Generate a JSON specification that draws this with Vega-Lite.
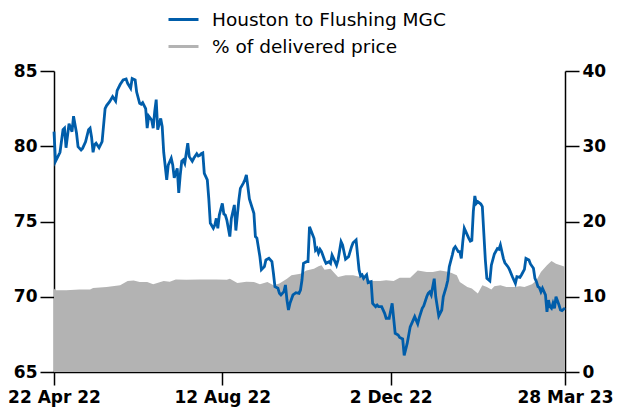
{
 "$schema": "https://vega.github.io/schema/vega-lite/v6.json",
 "width": 511, "height": 301,
 "autosize": {"type": "none"},
 "padding": {"left": 54, "top": 71, "right": 57, "bottom": 42},
 "background": "white",
 "config": {
  "font": "DejaVu Sans",
  "view": {"stroke": null},
  "axis": {"domainColor": "#000000", "domainWidth": 1.5, "tickColor": "#000000", "tickWidth": 1.5, "tickSize": 14, "labelFontSize": 17, "labelFontWeight": "bold", "labelColor": "#000000", "grid": false, "title": null, "labelPadding": 3}
 },
 "datasets": {
  "mgc": [
   {"date":"2022-04-22","v":80.97},{"date":"2022-04-23","v":79.0},{"date":"2022-04-26","v":79.6},{"date":"2022-04-28","v":81.1},{"date":"2022-04-29","v":81.2},{"date":"2022-04-30","v":79.9},
   {"date":"2022-05-02","v":81.5},{"date":"2022-05-04","v":80.97},{"date":"2022-05-05","v":82.0},{"date":"2022-05-07","v":80.86},{"date":"2022-05-08","v":79.97},{"date":"2022-05-10","v":79.75},{"date":"2022-05-11","v":79.86},{"date":"2022-05-13","v":80.3},{"date":"2022-05-15","v":81.1},{"date":"2022-05-16","v":81.2},{"date":"2022-05-17","v":80.6},{"date":"2022-05-18","v":79.6},{"date":"2022-05-19","v":80.1},{"date":"2022-05-20","v":80.2},{"date":"2022-05-22","v":79.9},{"date":"2022-05-24","v":80.3},{"date":"2022-05-26","v":82.5},{"date":"2022-05-27","v":82.7},{"date":"2022-05-29","v":82.96},{"date":"2022-05-31","v":83.3},
   {"date":"2022-06-02","v":83.0},{"date":"2022-06-03","v":83.7},{"date":"2022-06-05","v":84.1},{"date":"2022-06-07","v":84.4},{"date":"2022-06-09","v":84.47},{"date":"2022-06-10","v":84.18},{"date":"2022-06-12","v":83.85},{"date":"2022-06-13","v":84.5},{"date":"2022-06-15","v":84.4},{"date":"2022-06-16","v":83.6},{"date":"2022-06-18","v":82.85},{"date":"2022-06-19","v":82.79},{"date":"2022-06-20","v":82.9},{"date":"2022-06-22","v":82.5},{"date":"2022-06-23","v":81.2},{"date":"2022-06-24","v":82.0},{"date":"2022-06-26","v":81.74},{"date":"2022-06-27","v":81.2},{"date":"2022-06-28","v":82.3},{"date":"2022-06-29","v":83.1},{"date":"2022-06-30","v":81.1},
   {"date":"2022-07-02","v":81.85},{"date":"2022-07-03","v":81.3},{"date":"2022-07-04","v":79.6},{"date":"2022-07-06","v":77.76},{"date":"2022-07-07","v":78.75},{"date":"2022-07-09","v":79.2},{"date":"2022-07-10","v":78.75},{"date":"2022-07-11","v":77.9},{"date":"2022-07-13","v":78.53},{"date":"2022-07-14","v":76.9},{"date":"2022-07-15","v":78.09},{"date":"2022-07-16","v":79.0},{"date":"2022-07-17","v":79.09},{"date":"2022-07-18","v":78.87},{"date":"2022-07-19","v":79.53},{"date":"2022-07-20","v":80.2},{"date":"2022-07-21","v":79.31},{"date":"2022-07-23","v":79.0},{"date":"2022-07-24","v":79.2},{"date":"2022-07-26","v":79.5},{"date":"2022-07-27","v":79.35},{"date":"2022-07-28","v":79.4},{"date":"2022-07-29","v":79.5},{"date":"2022-07-30","v":79.55},{"date":"2022-07-31","v":78.2},
   {"date":"2022-08-02","v":77.76},{"date":"2022-08-03","v":76.5},{"date":"2022-08-04","v":74.9},{"date":"2022-08-06","v":74.55},{"date":"2022-08-07","v":74.77},{"date":"2022-08-08","v":75.21},{"date":"2022-08-09","v":74.55},{"date":"2022-08-10","v":75.43},{"date":"2022-08-12","v":76.2},{"date":"2022-08-13","v":75.5},{"date":"2022-08-14","v":75.43},{"date":"2022-08-15","v":75.1},{"date":"2022-08-17","v":74.0},{"date":"2022-08-18","v":75.2},{"date":"2022-08-20","v":76.1},{"date":"2022-08-21","v":74.4},{"date":"2022-08-23","v":76.43},{"date":"2022-08-24","v":77.2},{"date":"2022-08-26","v":77.55},{"date":"2022-08-27","v":77.76},{"date":"2022-08-28","v":78.1},{"date":"2022-08-29","v":77.31},{"date":"2022-08-30","v":76.5},
   {"date":"2022-09-02","v":75.55},{"date":"2022-09-03","v":74.0},{"date":"2022-09-04","v":73.9},{"date":"2022-09-06","v":72.66},{"date":"2022-09-07","v":71.8},{"date":"2022-09-09","v":72.0},{"date":"2022-09-10","v":72.44},{"date":"2022-09-12","v":72.55},{"date":"2022-09-14","v":72.33},{"date":"2022-09-15","v":71.56},{"date":"2022-09-16","v":70.67},{"date":"2022-09-18","v":70.56},{"date":"2022-09-19","v":70.23},{"date":"2022-09-20","v":70.12},{"date":"2022-09-22","v":70.34},{"date":"2022-09-23","v":70.78},{"date":"2022-09-24","v":69.78},{"date":"2022-09-25","v":69.12},{"date":"2022-09-26","v":69.56},{"date":"2022-09-28","v":70.12},{"date":"2022-09-30","v":70.27},
   {"date":"2022-10-02","v":70.23},{"date":"2022-10-03","v":70.45},{"date":"2022-10-04","v":71.11},{"date":"2022-10-05","v":72.22},{"date":"2022-10-07","v":72.33},{"date":"2022-10-08","v":72.33},{"date":"2022-10-09","v":74.65},{"date":"2022-10-12","v":73.88},{"date":"2022-10-13","v":73.1},{"date":"2022-10-14","v":73.22},{"date":"2022-10-15","v":72.9},{"date":"2022-10-16","v":73.15},{"date":"2022-10-17","v":73.0},{"date":"2022-10-19","v":72.44},{"date":"2022-10-20","v":72.22},{"date":"2022-10-22","v":72.33},{"date":"2022-10-23","v":72.22},{"date":"2022-10-24","v":72.77},{"date":"2022-10-25","v":72.55},{"date":"2022-10-27","v":72.1},{"date":"2022-10-28","v":72.44},{"date":"2022-10-30","v":73.66},{"date":"2022-10-31","v":73.44},
   {"date":"2022-11-02","v":72.5},{"date":"2022-11-04","v":72.66},{"date":"2022-11-06","v":73.33},{"date":"2022-11-07","v":73.59},{"date":"2022-11-09","v":73.77},{"date":"2022-11-10","v":72.77},{"date":"2022-11-11","v":71.78},{"date":"2022-11-12","v":71.38},{"date":"2022-11-13","v":71.45},{"date":"2022-11-14","v":71.22},{"date":"2022-11-16","v":71.45},{"date":"2022-11-17","v":70.93},{"date":"2022-11-19","v":71.0},{"date":"2022-11-20","v":69.56},{"date":"2022-11-22","v":69.34},{"date":"2022-11-23","v":69.45},{"date":"2022-11-24","v":69.34},{"date":"2022-11-26","v":69.34},{"date":"2022-11-28","v":68.9},{"date":"2022-11-29","v":68.57},
   {"date":"2022-12-01","v":68.57},{"date":"2022-12-03","v":69.56},{"date":"2022-12-04","v":68.57},{"date":"2022-12-05","v":67.57},{"date":"2022-12-07","v":67.46},{"date":"2022-12-08","v":67.3},{"date":"2022-12-10","v":67.2},{"date":"2022-12-11","v":66.1},{"date":"2022-12-13","v":66.9},{"date":"2022-12-15","v":68.0},{"date":"2022-12-17","v":68.45},{"date":"2022-12-18","v":68.68},{"date":"2022-12-20","v":68.2},{"date":"2022-12-21","v":68.6},{"date":"2022-12-23","v":69.23},{"date":"2022-12-24","v":69.39},{"date":"2022-12-26","v":70.0},{"date":"2022-12-27","v":70.23},{"date":"2022-12-28","v":70.33},{"date":"2022-12-29","v":70.12},{"date":"2022-12-30","v":70.67},{"date":"2022-12-31","v":71.2},
   {"date":"2023-01-01","v":70.0},{"date":"2023-01-03","v":68.72},{"date":"2023-01-05","v":69.12},{"date":"2023-01-06","v":70.0},{"date":"2023-01-08","v":70.67},{"date":"2023-01-09","v":71.1},{"date":"2023-01-10","v":72.0},{"date":"2023-01-12","v":72.77},{"date":"2023-01-13","v":73.2},{"date":"2023-01-14","v":73.33},{"date":"2023-01-16","v":73.0},{"date":"2023-01-17","v":73.0},{"date":"2023-01-18","v":72.55},{"date":"2023-01-19","v":73.66},{"date":"2023-01-20","v":74.55},{"date":"2023-01-21","v":74.33},{"date":"2023-01-23","v":73.88},{"date":"2023-01-24","v":73.7},{"date":"2023-01-25","v":73.75},{"date":"2023-01-26","v":75.65},{"date":"2023-01-27","v":76.7},{"date":"2023-01-28","v":76.2},{"date":"2023-01-29","v":76.32},{"date":"2023-01-31","v":76.16},
   {"date":"2023-02-01","v":75.99},{"date":"2023-02-02","v":74.2},{"date":"2023-02-03","v":72.44},{"date":"2023-02-04","v":71.22},{"date":"2023-02-06","v":71.05},{"date":"2023-02-07","v":72.1},{"date":"2023-02-09","v":72.84},{"date":"2023-02-11","v":73.2},{"date":"2023-02-12","v":73.15},{"date":"2023-02-13","v":73.44},{"date":"2023-02-15","v":72.55},{"date":"2023-02-16","v":72.26},{"date":"2023-02-18","v":72.0},{"date":"2023-02-19","v":71.82},{"date":"2023-02-21","v":71.33},{"date":"2023-02-23","v":70.89},{"date":"2023-02-24","v":71.33},{"date":"2023-02-26","v":71.29},{"date":"2023-02-27","v":71.45},
   {"date":"2023-03-01","v":71.82},{"date":"2023-03-02","v":72.55},{"date":"2023-03-04","v":72.44},{"date":"2023-03-05","v":72.18},{"date":"2023-03-07","v":71.89},{"date":"2023-03-08","v":71.22},{"date":"2023-03-09","v":71.0},{"date":"2023-03-10","v":70.67},{"date":"2023-03-11","v":70.6},{"date":"2023-03-12","v":70.33},{"date":"2023-03-13","v":70.56},{"date":"2023-03-15","v":70.12},{"date":"2023-03-16","v":69.0},{"date":"2023-03-17","v":69.78},{"date":"2023-03-18","v":69.34},{"date":"2023-03-19","v":69.23},{"date":"2023-03-20","v":69.56},{"date":"2023-03-21","v":69.23},{"date":"2023-03-22","v":70.0},{"date":"2023-03-24","v":69.45},{"date":"2023-03-25","v":69.12},{"date":"2023-03-26","v":69.08},{"date":"2023-03-28","v":69.25}
  ],
  "pct": [
   {"date":"2022-04-22","v":11.08},{"date":"2022-04-23","v":10.86},{"date":"2022-04-30","v":10.86},{"date":"2022-05-09","v":10.95},{"date":"2022-05-16","v":10.95},{"date":"2022-05-18","v":11.17},{"date":"2022-05-27","v":11.3},{"date":"2022-06-05","v":11.52},{"date":"2022-06-10","v":12.1},{"date":"2022-06-14","v":12.15},{"date":"2022-06-18","v":11.96},{"date":"2022-06-23","v":11.96},{"date":"2022-06-27","v":11.66},{"date":"2022-07-04","v":12.1},{"date":"2022-07-08","v":12.0},{"date":"2022-07-12","v":12.3},{"date":"2022-07-19","v":12.25},{"date":"2022-07-28","v":12.3},{"date":"2022-08-08","v":12.3},{"date":"2022-08-15","v":12.25},{"date":"2022-08-17","v":12.4},{"date":"2022-08-22","v":11.83},{"date":"2022-08-28","v":12.0},{"date":"2022-09-02","v":11.96},{"date":"2022-09-06","v":11.66},{"date":"2022-09-11","v":11.96},{"date":"2022-09-15","v":11.52},{"date":"2022-09-19","v":11.75},{"date":"2022-09-24","v":12.4},{"date":"2022-09-27","v":12.85},{"date":"2022-10-03","v":13.07},{"date":"2022-10-07","v":13.5},{"date":"2022-10-12","v":13.73},{"date":"2022-10-15","v":14.04},{"date":"2022-10-17","v":14.17},{"date":"2022-10-19","v":13.6},{"date":"2022-10-23","v":13.73},{"date":"2022-10-26","v":13.07},{"date":"2022-10-28","v":12.62},{"date":"2022-11-02","v":12.85},{"date":"2022-11-07","v":12.85},{"date":"2022-11-12","v":12.62},{"date":"2022-11-16","v":12.4},{"date":"2022-11-20","v":12.1},{"date":"2022-11-25","v":12.1},{"date":"2022-11-29","v":12.2},{"date":"2022-12-04","v":12.1},{"date":"2022-12-08","v":12.54},{"date":"2022-12-15","v":12.54},{"date":"2022-12-20","v":13.5},{"date":"2022-12-26","v":13.28},{"date":"2022-12-30","v":13.28},{"date":"2023-01-04","v":13.5},{"date":"2023-01-10","v":13.28},{"date":"2023-01-15","v":12.85},{"date":"2023-01-17","v":11.96},{"date":"2023-01-22","v":11.3},{"date":"2023-01-25","v":11.1},{"date":"2023-01-29","v":10.42},{"date":"2023-02-01","v":11.52},{"date":"2023-02-04","v":11.3},{"date":"2023-02-07","v":10.95},{"date":"2023-02-09","v":11.39},{"date":"2023-02-13","v":11.52},{"date":"2023-02-17","v":11.3},{"date":"2023-02-22","v":11.3},{"date":"2023-02-26","v":11.4},{"date":"2023-03-01","v":11.3},{"date":"2023-03-06","v":11.66},{"date":"2023-03-09","v":12.19},{"date":"2023-03-12","v":13.28},{"date":"2023-03-16","v":14.17},{"date":"2023-03-19","v":14.74},{"date":"2023-03-22","v":14.4},{"date":"2023-03-27","v":14.04},{"date":"2023-03-28","v":14.0}
  ]
 },
 "encoding": {
  "x": {"field": "date", "type": "temporal",
        "scale": {"type": "utc", "domain": [{"year": 2022, "month": 4, "date": 22, "utc": true}, {"year": 2023, "month": 3, "date": 28, "utc": true}]},
        "axis": {"format": "%-d %b %y", "tickSize": 13, "labelPadding": 4, "labelFlush": false, "labelOverlap": false,
                 "values": [{"year": 2022, "month": 4, "date": 22, "utc": true}, {"year": 2022, "month": 8, "date": 12, "utc": true}, {"year": 2022, "month": 12, "date": 2, "utc": true}, {"year": 2023, "month": 3, "date": 28, "utc": true}]}}
 },
 "layer": [
  {
   "data": {"name": "pct"},
   "mark": {"type": "area"},
   "encoding": {
    "y": {"field": "v", "type": "quantitative", "scale": {"domain": [0, 40], "nice": false},
          "axis": {"orient": "right", "values": [0, 10, 20, 30, 40]}},
    "color": {"datum": "% of delivered price", "type": "nominal",
              "scale": {"domain": ["Houston to Flushing MGC", "% of delivered price"], "range": ["#005DAA", "#B3B3B3"]},
              "legend": {"orient": "none", "legendX": 113, "legendY": -68, "direction": "vertical", "title": null,
                         "symbolType": "stroke", "symbolSize": 900, "symbolStrokeWidth": 3, "labelLimit": 400,
                         "labelFontSize": 18.5, "labelColor": "#000000", "labelOffset": 12, "rowPadding": 1,
                         "encode": {"symbols": {"update": {"stroke": {"scale": "color", "field": "value"}, "strokeWidth": {"value": 3}, "opacity": {"value": 1}}}}}}
   }
  },
  {
   "data": {"name": "mgc"},
   "mark": {"type": "line", "strokeWidth": 2.8},
   "encoding": {
    "y": {"field": "v", "type": "quantitative", "scale": {"domain": [65, 85], "nice": false},
          "axis": {"orient": "left", "values": [65, 70, 75, 80, 85]}},
    "color": {"datum": "Houston to Flushing MGC", "type": "nominal"}
   }
  }
 ],
 "resolve": {"scale": {"y": "independent"}}
}
